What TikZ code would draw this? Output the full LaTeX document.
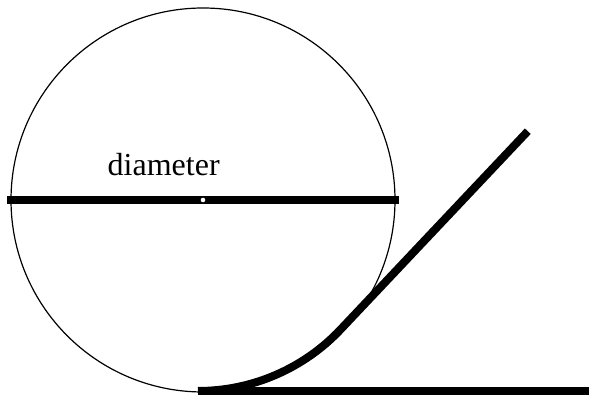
\documentclass[tikz,border=0pt]{standalone}
\usepackage{fontspec}
\setmainfont{Liberation Serif}
\begin{document}
\begin{tikzpicture}[x=1pt,y=1pt,
  thin circle/.style={draw=black,line width=1.2pt},
  thick bar/.style={draw=black,line width=8pt,line cap=butt},
  label text/.style={font=\fontsize{32}{37}\selectfont,inner sep=0pt,anchor=base west}]
\useasboundingbox (0,0) rectangle (589,395);
\coordinate (c) at (203,195);
\coordinate (dl) at (7,195);
\coordinate (dr) at (399,195);
\coordinate (b0) at (198,4);
\coordinate (b1) at (589,4);
\coordinate (top) at (527.8,263.8);
\draw[thin circle] (c) circle[radius=192];
\draw[thick bar] (dl) -- (dr);
\fill[white] (c) circle[radius=2.3];
\draw[thick bar] (b0) -- (b1);
\draw[thick bar] (b0) arc[start angle=-90,end angle=-43.3,radius=196] -- (top);
\node[label text] (lab) at (107.5,219) {diameter};
\end{tikzpicture}
\end{document}
